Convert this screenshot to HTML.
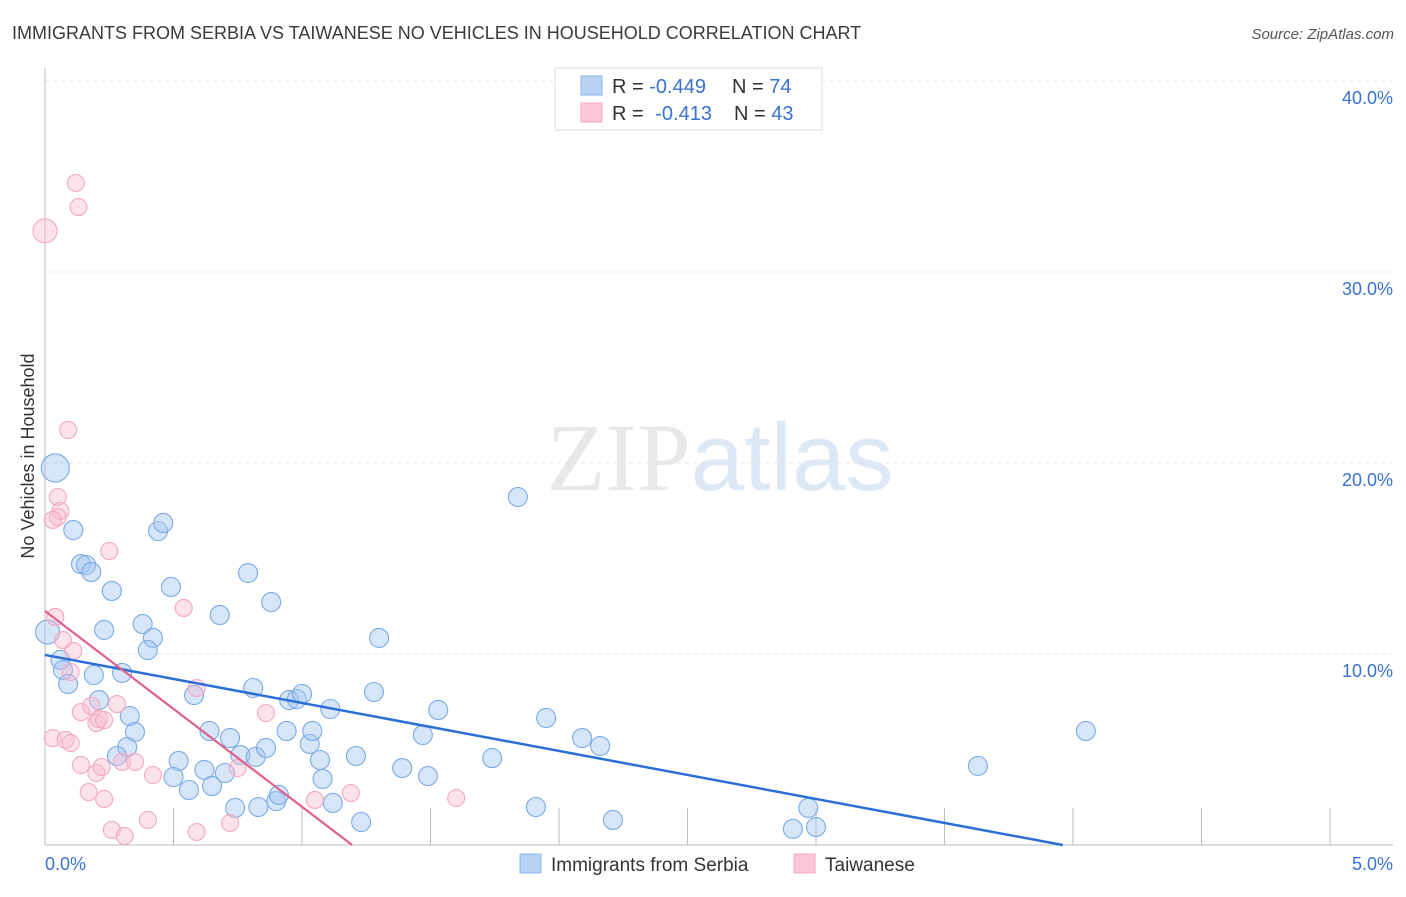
<!DOCTYPE html>
<html><head><meta charset="utf-8"><style>
body{margin:0;background:#fff;font-family:"Liberation Sans",sans-serif;}
</style></head><body>
<svg id="chart" width="1406" height="892" xmlns="http://www.w3.org/2000/svg" font-family="Liberation Sans, sans-serif">
<text x="12" y="39" font-size="18" fill="#3a3a3a">IMMIGRANTS FROM SERBIA VS TAIWANESE NO VEHICLES IN HOUSEHOLD CORRELATION CHART</text>
<text x="1394" y="39" font-size="15" fill="#555" text-anchor="end" font-style="italic">Source: ZipAtlas.com</text>
<text x="720" y="490" font-size="96" text-anchor="middle"><tspan fill="#e8e8e8" font-family="Liberation Serif, serif">ZIP</tspan><tspan fill="#dde8f6">atlas</tspan></text>
<g id="grid"></g>
<g id="axes"></g>
<g id="pts"></g>
<g id="lines"></g>
<text transform="translate(34,456) rotate(-90)" font-size="18" fill="#333" text-anchor="middle">No Vehicles in Household</text>
<g>
<rect x="555" y="68" width="267" height="62" fill="#fff" stroke="#ddd"/>
<rect x="581" y="76" width="21" height="19" fill="#b8d2f4" stroke="#8ab4ea"/>
<rect x="581" y="103" width="21" height="19" fill="#fcc8d8" stroke="#f4a8c0"/>
<text x="612" y="93" font-size="20" fill="#333">R = <tspan fill="#3a72d0">-0.449</tspan><tspan dx="26">N = </tspan><tspan fill="#3a72d0">74</tspan></text>
<text x="612" y="120" font-size="20" fill="#333">R = <tspan dx="6" fill="#3a72d0">-0.413</tspan><tspan dx="22">N = </tspan><tspan fill="#3a72d0">43</tspan></text>
</g>
<g>
<rect x="520" y="854" width="21" height="19" fill="#b8d2f4" stroke="#8ab4ea"/>
<text x="551" y="871" font-size="19" fill="#333">Immigrants from Serbia</text>
<rect x="794" y="854" width="21" height="19" fill="#fcc8d8" stroke="#f4a8c0"/>
<text x="825" y="871" font-size="19" fill="#333">Taiwanese</text>
</g>
</svg>
<script>
const yTicks=[10,20,30,40];
const yTickLabels=["10.0%","20.0%","30.0%","40.0%"];
const xTicks=[0.5,1,1.5,2,2.5,3,3.5,4,4.5,5];
const serbiaX=[.04,.11,.14,.16,.18,.26,.23,.06,.07,.09,.19,.21,.30,.33,.35,.32,.28,.38,.42,.40,.44,.46,.49,.52,.50,.56,.58,.64,.62,.65,.68,.70,.72,.74,.76,.79,.81,.82,.83,.86,.88,.90,.91,.94,.95,.98,1.00,1.03,1.04,1.07,1.08,1.11,1.12,1.21,1.23,1.28,1.30,1.39,1.47,1.49,1.53,1.74,1.84,1.91,1.95,2.09,2.16,2.21,2.91,2.97,3.00,3.63,4.05,.01];
const serbiaY=[19.74,16.49,14.71,14.66,14.29,13.30,11.26,9.69,9.16,8.43,8.90,7.59,9.01,6.75,5.92,5.13,4.66,11.57,10.84,10.21,16.44,16.86,13.51,4.40,3.56,2.88,7.85,5.97,3.93,3.09,12.04,3.77,5.60,1.94,4.71,14.24,8.22,4.61,1.99,5.08,12.72,2.30,2.62,5.97,7.59,7.64,7.91,5.29,5.97,4.45,3.46,7.12,2.20,4.66,1.20,8.01,10.84,4.03,5.76,3.61,7.07,4.55,18.22,1.99,6.65,5.60,5.18,1.31,0.84,1.94,0.94,4.14,5.97,11.15];
const taiwanX=[.12,.13,0,.09,.05,.06,.05,.03,.25,.04,.07,.11,.03,.08,.10,.14,.14,.18,.20,.21,.23,.28,.20,.22,.23,.17,.30,.35,.42,.40,.26,.31,.54,.59,.59,.72,.75,.86,1.05,1.19,1.60,.10];
const taiwanY=[34.66,33.40,32.15,21.73,18.22,17.49,17.17,17.02,15.39,11.94,10.73,10.16,5.60,5.50,5.34,4.19,6.96,7.28,6.39,6.60,6.54,7.38,3.77,4.08,2.41,2.77,4.35,4.35,3.66,1.31,0.79,0.47,12.41,8.22,0.68,1.15,4.03,6.91,2.36,2.72,2.46,9.06];
const serbiaTrend=[[0,9.95],[3.96,0]];
const taiwanTrend=[[0,12.25],[1.195,0]];
const X=v=>45+v*257, Y=v=>845-v*19.1;
const NS="http://www.w3.org/2000/svg";
function mk(tag,attrs,parent){const e=document.createElementNS(NS,tag);for(const k in attrs)e.setAttribute(k,attrs[k]);document.getElementById(parent).appendChild(e);return e;}
yTicks.forEach((t,i)=>{
  const l=mk('line',{x1:45,x2:1393,y1:Y(t),y2:Y(t),stroke:'#e4e4e4','stroke-dasharray':'4,4'},'grid');
  
  
  const tx=mk('text',{x:1393,y:Y(t)+23,'font-size':18,fill:'#3a72d0','text-anchor':'end'},'grid');
  tx.textContent=yTickLabels[i];
  
  
});
const ya=mk('line',{x1:45,x2:45,y1:68,y2:845,stroke:'#bbb'},'axes');


const xa=mk('line',{x1:45,x2:1393,y1:845,y2:845,stroke:'#bbb'},'axes');


xTicks.forEach(t=>{
  const l=mk('line',{x1:X(t),x2:X(t),y1:808,y2:845,stroke:'#bbb'},'axes');
  
  
});
const x0=mk('text',{x:45,y:870,'font-size':18,fill:'#3a72d0'},'axes');x0.textContent='0.0%';


const x1=mk('text',{x:1393,y:870,'font-size':18,fill:'#3a72d0','text-anchor':'end'},'axes');x1.textContent='5.0%';


serbiaX.forEach((v,i)=>{
  const r=i===0?14:(i===serbiaX.length-1?12:9.5);
  const c=mk('circle',{cx:X(v),cy:Y(serbiaY[i]),r:r,fill:'rgba(165,198,240,0.45)',stroke:'#7aaae6','stroke-width':1.1},'pts');
  
  
});
taiwanX.forEach((v,i)=>{
  const r=i===2?12:8.5;
  const c=mk('circle',{cx:X(v),cy:Y(taiwanY[i]),r:r,fill:'rgba(248,186,206,0.4)',stroke:'#f2a8c0','stroke-width':1.1},'pts');
  
  
});
const bl=mk('line',{x1:X(serbiaTrend[0][0]),y1:Y(serbiaTrend[0][1]),x2:X(serbiaTrend[1][0]),y2:Y(serbiaTrend[1][1]),stroke:'#2a6fd6','stroke-width':2.5},'lines');


const pl=mk('line',{x1:X(taiwanTrend[0][0]),y1:Y(taiwanTrend[0][1]),x2:X(taiwanTrend[1][0]),y2:Y(taiwanTrend[1][1]),stroke:'#e0608a','stroke-width':2.2},'lines');


</script>
</body></html>
